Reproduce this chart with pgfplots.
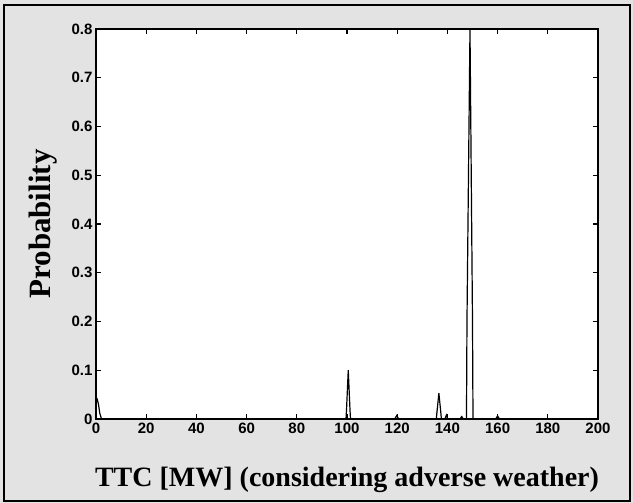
\documentclass[border=0pt]{standalone}
\usepackage{pgfplots}
\pgfplotsset{compat=1.18}
\usepackage{fontspec}
\setmainfont{Liberation Serif}
\setsansfont{Liberation Sans}
\begin{document}
\begin{tikzpicture}[x=1pt,y=1pt]
% scanned figure background and frame
\fill[gray!22] (0,0) rectangle (633,503);
\draw[line width=1.6pt] (4,2) rectangle (630,498);
\begin{axis}[
at={(96pt,84pt)}, anchor=south west,
width=502pt, height=390pt, scale only axis,
xmin=0, xmax=200, ymin=0, ymax=0.8,
xtick={0,20,...,200},
ytick={0,0.1,...,0.8},
yticklabels={0,0.1,0.2,0.3,0.4,0.5,0.6,0.7,0.8},
tick align=inside,
major tick length=5pt,
every tick/.style={black, line width=1.2pt},
axis line style={line width=1.6pt},
axis background/.style={fill=white},
/pgf/number format/assume math mode=true,
ticklabel style={font=\sffamily\bfseries\fontsize{15}{17}\selectfont},
xlabel={TTC [MW] (considering adverse weather)},
ylabel={Probability},
xlabel style={font=\bfseries\fontsize{28}{32}\selectfont, at={(axis description cs:0.5,-0.172)}, anchor=base},
ylabel style={font=\bfseries\fontsize{31}{34}\selectfont, at={(axis description cs:-0.0916,0.5)}, anchor=base},
]
\addplot[black, line width=1.2pt] coordinates {
(0,0.035) (0.5,0.04) (1.0,0.03) (1.5,0.012) (2.2,0)
(99.6,0) (99.8,0.018) (100.5,0.1) (101.2,0.018) (101.4,0)
(119,0) (119.8,0.007) (120.6,0)
(135.6,0) (135.8,0.012) (136.6,0.053) (137.4,0.012) (137.6,0)
(139,0) (139.6,0.008) (140.2,0)
(145,0) (145.7,0.005) (146.4,0)
(147.6,0) (147.8,0.2) (149,0.8) (150,0.2) (150.2,0)
(159.2,0) (160,0.006) (160.8,0)
(200,0)
};
\end{axis}
\end{tikzpicture}
\end{document}
